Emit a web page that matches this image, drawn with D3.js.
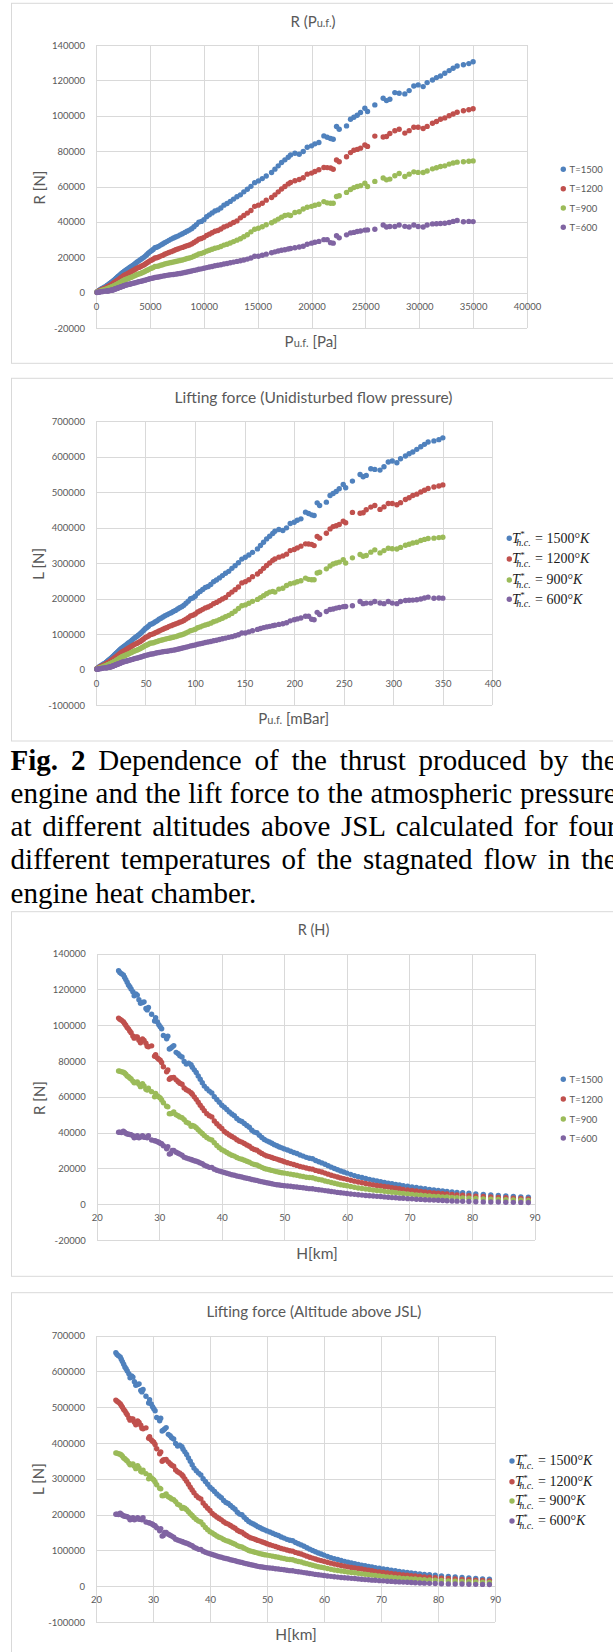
<!DOCTYPE html>
<html><head><meta charset="utf-8">
<script src="https://cdn.jsdelivr.net/npm/d3@7/dist/d3.min.js"></script>
<style>
html,body{margin:0;padding:0;background:#fff;overflow:hidden;width:613px;height:1652px;}
svg{display:block;}
</style></head>
<body>
<svg id="fig" width="613" height="1652"></svg>
<script>
// ---------------- data ----------------
const H_km = [23.5,23.7,23.96,24.26,24.45,24.65,24.87,25.08,25.29,25.5,
25.78,25.99,26.26,26.49,26.75,27,27.32,27.57,27.87,28.07,
28.27,28.78,29.25,29.42,29.71,29.93,30.15,30.38,30.66,31.18,
31.37,31.61,31.81,32.06,32.32,32.7,33.02,33.29,33.64,33.98,
34.32,34.7,35.08,35.29,35.6,35.91,36.23,36.55,36.88,
37.2,37.6,38,38.4,38.8,39.2,39.6,40,40.4,40.8,
41.2,41.6,42,42.4,42.8,43.2,43.6,44,44.4,44.8,
45.2,45.6,46,46.4,46.8,47.2,47.6,48,48.4,48.8,
49.2,49.6,50,50.5,51,51.5,52,52.5,53,53.5,
54,54.5,55,55.5,56,56.5,57,57.5,58,58.5,
59,59.5,60,60.6,61.2,61.8,62.4,63,63.6,64.2,
64.8,65.4,66,66.6,67.2,67.8,68.4,69,69.7,70.4,
71.1,71.8,72.5,73.2,73.9,74.6,75.3,76,76.8,77.6,
78.5,79.5,80.6,81.8,83,84.2,85.4,86.6,87.8,89,
90.2,91.4,92.6,93.8,95,96.2,97.4,98.6];

const P_Pa = [35000,34600,34100,33516,33145,32774,32372,31970,31599,31227,
30733,30362,29898,29496,29063,28661,28136,27734,27271,26961,
26652,25879,25199,24952,24550,24241,23931,23622,23251,22571,
22324,22014,21767,21458,21149,20685,20314,20005,19603,19232,
18860,18459,18057,17841,17531,17222,16913,16604,16295,
15800,15432,15073,14723,14380,14046,13719,13400,13079,12766,
12461,12163,11872,11588,11311,11040,10776,10518,10267,10021,
9780,9546,9317,9093,8875,8662,8454,8250,8026,7809,
7597,7391,7190,6976,6769,6568,6373,6184,6000,5817,
5639,5467,5300,5146,4996,4851,4710,4573,4440,4276,
4118,3966,3820,3678,3541,3409,3282,3160,3051,2945,
2843,2745,2650,2577,2506,2437,2370,2305,2231,2162,
2098,2035,1974,1915,1858,1807,1758,1710,1657,1605,
1549,1489,1426,1361,1294,1230,1169,1111,1054,1000,
800,650,520,410,320,240,160,90];

const P_mBar = [350,346,341,335.16,331.45,327.74,323.72,319.7,315.99,312.27,
307.33,303.62,298.98,294.96,290.63,286.61,281.36,277.34,272.71,269.61,
266.52,258.79,251.99,249.52,245.5,242.41,239.31,236.22,232.51,225.71,
223.24,220.14,217.67,214.58,211.49,206.85,203.14,200.05,196.03,192.32,
188.6,184.59,180.57,178.41,175.31,172.22,169.13,166.04,162.95,
158,154.32,150.73,147.23,143.8,140.46,137.19,134,130.79,127.66,
124.61,121.63,118.72,115.88,113.11,110.4,107.76,105.18,102.67,100.21,
97.8,95.46,93.17,90.93,88.75,86.62,84.54,82.5,80.26,78.09,
75.97,73.91,71.9,69.76,67.69,65.68,63.73,61.84,60,58.17,
56.39,54.67,53,51.46,49.96,48.51,47.1,45.73,44.4,42.76,
41.18,39.66,38.2,36.78,35.41,34.09,32.82,31.6,30.51,29.45,
28.43,27.45,26.5,25.77,25.06,24.37,23.7,23.05,22.31,21.62,
20.98,20.35,19.74,19.15,18.58,18.07,17.58,17.1,16.57,16.05,
15.49,14.89,14.26,13.61,12.94,12.3,11.69,11.11,10.54,10,
8,6.5,5.2,4.1,3.2,2.4,1.6,0.9];

// thrust R [N]
const R_T1500 = [130500,129500,128800,128170,126850,125530,124020,122520,121580,120260,
118750,116500,117440,116870,114240,112350,112730,113100,109340,108590,
109900,106140,102380,104260,101810,100310,99180,98050,94290,92400,
93900,86760,87140,87890,88640,84880,84120,83000,82240,79800,
78290,78860,77900,76600,75090,73590,71700,69820,67940,
66000,64500,63200,62200,60100,58500,57000,55300,54200,52900,
51600,50400,49500,47900,46800,46200,45100,44000,43000,41300,
40300,39900,38500,37300,36200,35400,34800,34100,33300,32700,
32000,31500,30900,30300,29600,28900,28300,27500,26900,26200,
25700,25400,24400,23700,23100,22300,21500,20700,20000,19300,
18600,18000,17400,16700,16000,15400,14900,14400,13900,13400,
13000,12600,12200,11800,11400,11100,10700,10400,10000,9600,
9300,9000,8600,8300,8000,7700,7400,7200,6900,6600,
6400,6100,5800,5500,5200,4900,4600,4300,4100,3900,
3300,2700,2200,1800,1400,1050,700,400];

const R_T1200 = [104000,103400,102800,102000,101000,100000,98800,98000,96800,95800,
94000,92800,93500,93500,91600,90200,92400,91500,90000,88300,
88000,88500,82700,83500,81700,81000,80500,79200,76800,74000,
75000,69800,70500,70700,70800,69500,68500,67600,67000,65000,
64000,63300,62300,61500,60000,58600,57000,55300,53800,
52300,50600,49500,48800,46500,45000,43600,42300,40600,39700,
38700,37800,37100,36000,35200,34700,33900,33100,32400,31300,
30600,30200,29200,28400,27600,27000,26600,26100,25600,25200,
24700,24300,23700,23200,22700,22200,21700,21100,20700,20200,
19800,19600,18900,18400,18000,17400,16800,16200,15700,15200,
14700,14300,13900,13400,12900,12400,12000,11600,11200,10800,
10500,10200,9900,9600,9200,8900,8600,8300,8000,7700,
7400,7100,6800,6600,6300,6100,5900,5700,5500,5200,
5000,4800,4500,4300,4000,3800,3600,3400,3200,3000,
2600,2100,1700,1400,1100,800,550,300];

const R_T900 = [74500,74300,74000,73800,73300,72700,71700,71300,70600,70000,
68800,67900,68000,68300,67000,65700,67400,66100,64200,63800,
64800,62900,60000,61900,60500,60000,59400,58300,56700,54800,
54400,50600,50600,50800,51500,50000,49400,48800,48300,47300,
45800,45300,43600,44000,43600,42700,41600,40500,39500,
38400,37300,36400,35900,34400,32800,31600,30500,29700,28900,
28100,27400,26900,26100,25500,25100,24600,24000,23500,22700,
22200,21900,21200,20600,20000,19600,19300,18900,18500,18200,
17900,17600,17400,17100,16800,16500,16200,15800,15500,15100,
14900,14800,14200,13800,13500,13000,12600,12100,11700,11300,
10900,10600,10300,9900,9500,9100,8800,8500,8200,7900,
7700,7500,7200,6900,6700,6500,6200,6000,5700,5500,
5200,5000,4800,4600,4400,4300,4100,4000,3800,3600,
3500,3300,3200,3000,2800,2700,2500,2400,2200,2100,
1800,1500,1200,1000,780,580,400,220];

const R_T600 = [40200,40300,40100,40800,40300,39700,39300,39100,39000,38900,
38300,37100,37400,38300,37100,37500,38300,37400,37400,37100,
38300,35900,35500,35400,34900,34600,34100,33800,32700,31000,
32200,28000,28300,30000,30000,29000,28500,28000,27400,26300,
25800,25400,25000,24700,24300,24000,23600,23100,22600,
21800,21200,20600,20600,19600,19000,18500,18100,17700,17300,
16900,16500,16200,15800,15500,15200,14800,14500,14200,13800,
13500,13300,12900,12600,12300,12000,11700,11400,11100,10900,
10700,10500,10300,10200,10000,9800,9600,9400,9200,8900,
8700,8600,8300,8100,7900,7600,7400,7100,6900,6600,
6400,6200,6000,5700,5500,5300,5100,4900,4700,4600,
4400,4300,4100,3900,3700,3600,3400,3300,3100,3000,
2800,2700,2500,2400,2300,2200,2100,1900,1800,1700,
1600,1500,1400,1300,1250,1200,1100,1050,1000,950,
880,720,600,480,380,290,200,110];

// lifting force L [N]
const L_T1500 = [652500,647500,644000,640850,634250,627650,620100,612600,607900,601300,
593750,582500,587200,584350,571200,561750,563650,565500,546700,542950,
549500,530700,511900,521300,509050,501550,495900,490250,471450,462000,
469500,433800,435700,439450,443200,424400,420600,415000,411200,399000,
391450,394300,389500,383000,375450,367950,358500,349100,339700,
330000,322500,316000,311000,300500,292500,285000,276500,271000,264500,
258000,252000,247500,239500,234000,231000,225500,220000,215000,206500,
201500,199500,192500,186500,181000,177000,174000,170500,166500,163500,
160000,157500,154500,151500,148000,144500,141500,137500,134500,131000,
128500,127000,122000,118500,115500,111500,107500,103500,100000,96500,
93000,90000,87000,83500,80000,77000,74500,72000,69500,67000,
65000,63000,61000,59000,57000,55500,53500,52000,50000,48000,
46500,45000,43000,41500,40000,38500,37000,36000,34500,33000,
32000,30500,29000,27500,26000,24500,23000,21500,20500,19500,
16500,13500,11000,9000,7000,5250,3500,2000];

const L_T1200 = [520000,517000,514000,510000,505000,500000,494000,490000,484000,479000,
470000,464000,467500,467500,458000,451000,462000,457500,450000,441500,
440000,442500,413500,417500,408500,405000,402500,396000,384000,370000,
375000,349000,352500,353500,354000,347500,342500,338000,335000,325000,
320000,316500,311500,307500,300000,293000,285000,276500,269000,
261500,253000,247500,244000,232500,225000,218000,211500,203000,198500,
193500,189000,185500,180000,176000,173500,169500,165500,162000,156500,
153000,151000,146000,142000,138000,135000,133000,130500,128000,126000,
123500,121500,118500,116000,113500,111000,108500,105500,103500,101000,
99000,98000,94500,92000,90000,87000,84000,81000,78500,76000,
73500,71500,69500,67000,64500,62000,60000,58000,56000,54000,
52500,51000,49500,48000,46000,44500,43000,41500,40000,38500,
37000,35500,34000,33000,31500,30500,29500,28500,27500,26000,
25000,24000,22500,21500,20000,19000,18000,17000,16000,15000,
13000,10500,8500,7000,5500,4000,2750,1500];

const L_T900 = [372500,371500,370000,369000,366500,363500,358500,356500,353000,350000,
344000,339500,340000,341500,335000,328500,337000,330500,321000,319000,
324000,314500,300000,309500,302500,300000,297000,291500,283500,274000,
272000,253000,253000,254000,257500,250000,247000,244000,241500,236500,
229000,226500,218000,220000,218000,213500,208000,202500,197500,
192000,186500,182000,179500,172000,164000,158000,152500,148500,144500,
140500,137000,134500,130500,127500,125500,123000,120000,117500,113500,
111000,109500,106000,103000,100000,98000,96500,94500,92500,91000,
89500,88000,87000,85500,84000,82500,81000,79000,77500,75500,
74500,74000,71000,69000,67500,65000,63000,60500,58500,56500,
54500,53000,51500,49500,47500,45500,44000,42500,41000,39500,
38500,37500,36000,34500,33500,32500,31000,30000,28500,27500,
26000,25000,24000,23000,22000,21500,20500,20000,19000,18000,
17500,16500,16000,15000,14000,13500,12500,12000,11000,10500,
9000,7500,6000,5000,3900,2900,2000,1100];

const L_T600 = [201000,201500,200500,204000,201500,198500,196500,195500,195000,194500,
191500,185500,187000,191500,185500,187500,191500,187000,187000,185500,
191500,179500,177500,177000,174500,173000,170500,169000,163500,155000,
161000,140000,141500,150000,150000,145000,142500,140000,137000,131500,
129000,127000,125000,123500,121500,120000,118000,115500,113000,
109000,106000,103000,103000,98000,95000,92500,90500,88500,86500,
84500,82500,81000,79000,77500,76000,74000,72500,71000,69000,
67500,66500,64500,63000,61500,60000,58500,57000,55500,54500,
53500,52500,51500,51000,50000,49000,48000,47000,46000,44500,
43500,43000,41500,40500,39500,38000,37000,35500,34500,33000,
32000,31000,30000,28500,27500,26500,25500,24500,23500,23000,
22000,21500,20500,19500,18500,18000,17000,16500,15500,15000,
14000,13500,12500,12000,11500,11000,10500,9500,9000,8500,
8000,7500,7000,6500,6250,6000,5500,5250,5000,4750,
4400,3600,3000,2400,1900,1450,1000,550];

const seriesTemps = ["1500", "1200", "900", "600"];
const seriesColors = ["#4F81BD", "#C0504D", "#9BBB59", "#8064A2"];

const xTicksPa = [0,5000,10000,15000,20000,25000,30000,35000,40000];
const xTicksMbar = [0,50,100,150,200,250,300,350,400];
const xTicksH = [20,30,40,50,60,70,80,90];
const yTicksR = [-20000,0,20000,40000,60000,80000,100000,120000,140000];
const yTicksL = [-100000,0,100000,200000,300000,400000,500000,600000,700000];

// ---------------- drawing ----------------
const FONT = "Lato, 'Open Sans', sans-serif";
const GRAY = "#595959";
const GRID = "#d9d9d9";
const svg = d3.select("#fig");

function rich(g, x, y, parts, opts) {
  opts = opts || {};
  const t = g.append("text").attr("x", x).attr("y", y)
    .attr("text-anchor", "middle").attr("font-family", FONT)
    .attr("fill", GRAY).style("white-space", "pre");
  if (opts.rotate) t.attr("transform", `rotate(-90,${x},${y})`).attr("dominant-baseline", "central");
  parts.forEach(p => t.append("tspan").attr("font-size", p[1]).text(p[0]));
  if (opts.len) t.attr("textLength", opts.len).attr("lengthAdjust", "spacingAndGlyphs");
  return t;
}

function mathLegend(g, x0, yb, temp) {
  const t = g.append("text").attr("y", yb)
    .attr("font-family", "'Liberation Serif','Times New Roman',serif")
    .attr("font-size", 14).attr("fill", "#1a1a1a").style("white-space", "pre");
  t.append("tspan").attr("x", x0).attr("font-style", "italic").text("T");
  t.append("tspan").attr("x", x0 + 8.2).attr("y", yb - 5.5).attr("font-size", 9).text("*");
  t.append("tspan").attr("x", x0 + 4.3).attr("y", yb + 3.3).attr("font-size", 10).attr("font-style", "italic").text("h.c.");
  t.append("tspan").attr("x", x0 + 23).attr("y", yb).text("= " + temp + "°");
  t.append("tspan").attr("font-style", "italic").text("K");
}

function drawChart(c) {
  const g = svg.append("g");
  g.append("rect").attr("x", 11.5).attr("y", c.box[0]).attr("width", 700)
    .attr("height", c.box[1] - c.box[0]).attr("fill", "none").attr("stroke", GRID);

  const x = d3.scaleLinear().domain(c.xDomain).range([c.left, c.right]);
  const y = d3.scaleLinear().domain(c.yDomain).range([c.bottom, c.top]);

  // horizontal gridlines + y labels
  const ya = g.append("g").attr("transform", `translate(${c.left},0)`)
    .call(d3.axisLeft(y).tickValues(c.yTicks).tickSize(-(c.right - c.left)).tickPadding(11).tickFormat(d => String(d)));
  ya.select(".domain").remove();
  ya.selectAll("line").attr("stroke", GRID).attr("shape-rendering", "crispEdges");
  ya.selectAll("text").attr("fill", GRAY).attr("font-family", FONT).attr("font-size", 9.5);

  // vertical gridlines
  const xg = g.append("g").attr("transform", `translate(0,${c.bottom})`)
    .call(d3.axisBottom(x).tickValues(c.xTicks).tickSize(-(c.bottom - c.top)).tickFormat(""));
  xg.select(".domain").remove();
  xg.selectAll("line").attr("stroke", GRID).attr("shape-rendering", "crispEdges");

  // x labels at the zero line
  const xl = g.append("g").attr("transform", `translate(0,${y(0)})`)
    .call(d3.axisBottom(x).tickValues(c.xTicks).tickSize(0).tickPadding(10.5).tickFormat(d => String(d)));
  xl.select(".domain").remove();
  xl.selectAll("text").attr("fill", GRAY).attr("font-family", FONT).attr("font-size", 9.5);

  // points (points outside the fixed x range are not drawn, as in the original)
  c.ys.forEach((arr, k) => {
    const pts = c.xs.map((xv, i) => [xv, arr[i]])
      .filter(d => d[0] >= c.xDomain[0] && d[0] <= c.xDomain[1]);
    g.append("g").selectAll("circle").data(pts).join("circle")
      .attr("cx", d => x(d[0])).attr("cy", d => y(d[1]))
      .attr("r", 2.7).attr("fill", seriesColors[k]);
  });

  // titles
  rich(g, c.title.x, c.title.y, c.title.parts, { len: c.title.len });
  rich(g, c.xTitle.x, c.xTitle.y, c.xTitle.parts);
  rich(g, c.yTitle.x, c.yTitle.y, c.yTitle.parts, { rotate: true });

  // legend
  c.legend.ys.forEach((ly, k) => {
    g.append("circle").attr("cx", c.legend.mx).attr("cy", ly).attr("r", 2.7).attr("fill", seriesColors[k]);
    if (c.legend.math) {
      mathLegend(g, c.legend.tx, ly + 4.4, seriesTemps[k]);
    } else {
      g.append("text").attr("x", c.legend.tx).attr("y", ly).attr("dominant-baseline", "central")
        .attr("font-family", FONT).attr("font-size", 9.5).attr("fill", GRAY).text("T=" + seriesTemps[k]);
    }
  });
}

drawChart({
  box: [3.3, 363.3], left: 96, right: 527, top: 45, bottom: 328.1,
  xDomain: [0, 40000], yDomain: [-20000, 140000], xTicks: xTicksPa, yTicks: yTicksR,
  xs: P_Pa, ys: [R_T1500, R_T1200, R_T900, R_T600],
  title: { x: 313, y: 27.3, parts: [["R (P", 15], ["u.f.", 11], [")", 15]] },
  xTitle: { x: 311, y: 346.7, parts: [["P", 15], ["u.f.", 11], [" [Pa]", 15]] },
  yTitle: { x: 39, y: 187.5, parts: [["R [N]", 15]] },
  legend: { mx: 563.3, tx: 569.6, ys: [169.3, 188.7, 208, 227.3], math: false }
});

drawChart({
  box: [378.3, 741], left: 95.9, right: 492.4, top: 421, bottom: 705,
  xDomain: [0, 400], yDomain: [-100000, 700000], xTicks: xTicksMbar, yTicks: yTicksL,
  xs: P_mBar, ys: [L_T1500, L_T1200, L_T900, L_T600],
  title: { x: 313.5, y: 403.3, parts: [["Lifting force (Unidisturbed flow pressure)", 16]], len: 278 },
  xTitle: { x: 293.7, y: 724, parts: [["P", 15], ["u.f.", 11], [" [mBar]", 15]] },
  yTitle: { x: 38, y: 563.8, parts: [["L [N]", 15]] },
  legend: { mx: 509.3, tx: 512, ys: [538.3, 559, 580, 599.3], math: true }
});

drawChart({
  box: [911.7, 1276.3], left: 96.7, right: 534.6, top: 953.7, bottom: 1240,
  xDomain: [20, 90], yDomain: [-20000, 140000], xTicks: xTicksH, yTicks: yTicksR,
  xs: H_km, ys: [R_T1500, R_T1200, R_T900, R_T600],
  title: { x: 313.5, y: 935, parts: [["R (H)", 14.5]] },
  xTitle: { x: 317, y: 1259, parts: [["H[km]", 15.5]] },
  yTitle: { x: 39, y: 1098, parts: [["R [N]", 15]] },
  legend: { mx: 563.3, tx: 569.6, ys: [1079.3, 1099, 1119, 1138], math: false }
});

drawChart({
  box: [1292.7, 1700], left: 95.9, right: 495.1, top: 1335.7, bottom: 1622,
  xDomain: [20, 90], yDomain: [-100000, 700000], xTicks: xTicksH, yTicks: yTicksL,
  xs: H_km, ys: [L_T1500, L_T1200, L_T900, L_T600],
  title: { x: 313.9, y: 1317.3, parts: [["Lifting force (Altitude above JSL)", 16]], len: 215 },
  xTitle: { x: 296, y: 1640, parts: [["H[km]", 15.5]] },
  yTitle: { x: 38, y: 1479, parts: [["L [N]", 15]] },
  legend: { mx: 512, tx: 515, ys: [1461, 1481.7, 1501, 1521], math: true }
});

// ---------------- caption ----------------
const captionLines = [
  [["Fig. 2", true], [" Dependence of the thrust produced by the", false]],
  [["engine and the lift force to the atmospheric pressure", false]],
  [["at different altitudes above JSL calculated for four", false]],
  [["different temperatures of the stagnated flow in the", false]],
  [["engine heat chamber.", false]]
];
const CAP_W = 606;
captionLines.forEach((parts, i) => {
  const t = svg.append("text").attr("x", 10.6).attr("y", 769.5 + i * 33.3)
    .attr("font-family", "'Liberation Serif','Times New Roman',serif")
    .attr("font-size", 29).attr("fill", "#000").style("white-space", "pre");
  parts.forEach(p => t.append("tspan").attr("font-weight", p[1] ? "bold" : "normal").text(p[0]));
  if (i < captionLines.length - 1) {
    const full = parts.map(p => p[0]).join("");
    const spaces = full.split(" ").length - 1;
    const natural = t.node().getComputedTextLength();
    if (natural < CAP_W && spaces > 0) t.attr("word-spacing", (CAP_W - natural) / spaces);
  }
});
</script>
</body></html>
